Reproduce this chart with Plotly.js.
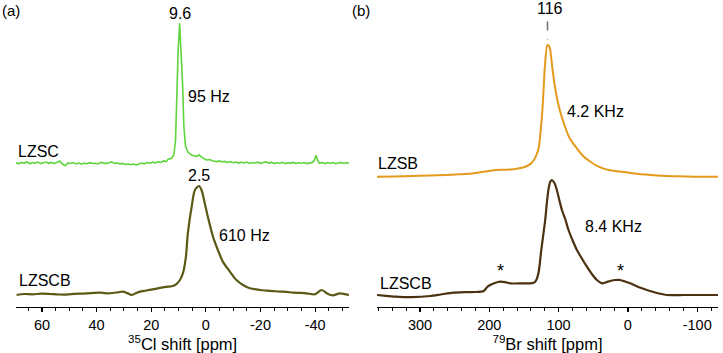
<!DOCTYPE html>
<html>
<head>
<meta charset="utf-8">
<script src="https://cdn.plot.ly/plotly-3.0.1.min.js"></script>
<style>html,body{margin:0;padding:0;background:#fff;}#chart{width:723px;height:353px;}</style>
</head>
<body>
<div id="chart"></div>
<script>
// ---------- DATA ----------
// Panel (a): 35Cl shift [ppm], intensities in arbitrary units
const clShift_LZSC = [69.5,68.5,67.5,66.5,65.5,64.5,63.5,62.5,61.5,60.5,59.5,58.5,57.5,56.5,55.5,54.5,53.5,52.5,51.5,50.5,49.5,48.5,47.5,46.5,45.5,44.5,43.5,42.5,41.5,40.5,39.5,38.5,37.5,36.5,35.5,34.5,33.5,32.5,31.5,30.5,29.5,28.5,27.5,26.5,25.5,24.5,23.5,22.5,21.5,20.5,19.5,18.5,17.5,16.5,15.5,14.5,13.8,12.56,11.72,11.1,10.73,10.15,9.6,9.0,8.53,8.06,7.44,6.48,5.24,4.3,3.4,2.6,2.0,1.0,-0.26,-1.5,-2.5,-3.9,-5,-6,-7,-8,-9,-10,-11,-12,-13,-14,-15,-16,-17,-18,-19,-20,-21,-22,-23,-24,-25,-26,-27,-28,-29,-30,-31,-32,-33,-34,-35,-36,-37,-38,-39,-39.7,-40.3,-40.9,-41.5,-42.5,-43.5,-44.5,-45.5,-46.5,-47.5,-48.5,-49.5,-50.5,-51.5,-52.5];
const clInt_LZSC = [0.5,-0.5,1,0,1.5,-0.5,0.8,0.2,1.2,-0.3,0.6,1.3,0,0.9,-0.4,1.1,2.2,-0.8,-2.5,0.4,-0.2,0.7,-0.6,0.3,-0.9,0.2,-0.4,0.6,-0.2,0.1,-0.7,0.9,0.1,-0.3,0.5,1.4,-0.2,0.4,-0.6,-0.1,-1.2,-0.5,-1.4,-0.8,-1.6,-0.4,0.3,-0.5,0.8,0.2,1.0,0.4,1.6,0.9,2.4,1.8,4,5,8.3,23,63,113,140,113,80,37,16.7,10.7,8.3,7.5,6.7,8.5,7.2,5.2,3.3,3.8,2.2,1.7,2.4,1.3,1.9,0.9,1.6,0.6,1.3,0.2,1.0,0.4,1.2,-0.2,0.8,0.3,1.1,0,0.7,1.4,0.2,0.9,-0.3,0.6,0.1,1.0,-0.4,0.5,0.2,0.9,-0.2,0.6,0.1,0.8,-0.3,0.4,0.9,3,8,3,0.2,0.7,-0.3,0.5,0.1,0.8,-0.4,0.3,0.9,-0.2,0.6,0.1];

const clShift_LZSCB = [69.3,66.5,63.4,60.2,57.1,54.0,51.0,48.0,45.1,42.0,38.8,36.5,34.1,32.2,30.4,28.8,27.2,25.7,24.2,21.8,19.4,17.5,15.75,13.9,12.1,10.7,9.5,8.4,7.3,6.6,5.2,4.0,2.5,1.6,0.4,-0.7,-2.6,-4.4,-6.2,-8.8,-11.2,-13.6,-16.1,-19.8,-22.2,-24.6,-27.1,-29.5,-31.9,-34.4,-36.9,-39.9,-42.4,-44.7,-46.5,-49.1,-52.4];
const clInt_LZSCB = [-0.7,0.3,0,0.6,0.3,-0.2,-0.3,0.4,0.7,1.2,1.7,1.0,1.3,2.0,2.7,1.2,-0.7,1.0,2.7,3.8,5,6.0,7,7.6,8.3,10.5,14.3,21,37.7,61,87.7,104.3,108.3,104.3,91,77.7,57.7,44.3,32.7,22.7,14.3,9.3,6,4.3,3.7,3.2,2.7,2.4,1.7,1.4,1,0,4.3,0.3,-1,1,-0.7];

// Panel (b): 79Br shift [ppm]
const brShift_LZSB = [362,336,311.3,287,263.2,244,224.7,208,191.1,179,167,157,147.8,141,135.6,131.5,128.4,126,123.7,121.6,119.8,116,113.1,111,109.2,105.3,99.6,92.4,85.1,75.6,63.5,55,46.8,37,27.4,18,8.2,-4,-15.9,-32,-49.5,-73,-97.5,-115,-130];
const brInt_LZSB = [0,0.3,0.7,1.2,1.7,2.4,3.3,5,6.7,7.0,7.3,8.4,10,12.6,16.7,22.5,30,45,63.3,88,110,131.7,130,121,110,90,70,53.3,40,30,20,15.5,11.7,8.6,6.7,5.6,5,3.8,2.7,1.8,1,0.4,0,0,0];

const brShift_LZSCB = [362,349,335,311,285,270,252,235,220,212,208,203,198.7,192,184.3,177,169.8,162,155.4,148,141,136.2,133.8,131.5,129,127,125.5,122.5,119.3,116.5,114,111.5,109.7,106,102.5,99,95.2,90,85.7,80,73.6,66,59.2,52,44.7,37.5,31,25.5,18,11.1,4,-3.3,-15,-27.4,-42,-56.3,-80,-105,-130];
const brInt_LZSCB = [0,-0.8,-1.7,-2.2,-1,0.5,2.3,2.8,3,3.3,4,8,10,12,13.3,12.8,11.7,11.5,11.7,11.7,11.7,12.3,13.3,16,22,32,42,58,75,95,108,114,115,112,105,95,85,75,65,55,45,36,28.3,21,15,11.7,12.8,14,15,15,13.5,11.7,8,5,2,0,0,0,0];

// Tick labels
const clTickVals = [60,40,20,0,-20,-40];
const clTickText = ["60","40","20","0","-20","-40"];
const brTickVals = [300,200,100,0,-100];
const brTickText = ["300","200","100","0","-100"];

// ---------- LAYOUT CONSTANTS ----------
const W = 723, H = 353, PLOT_BOTTOM = 307;
const FONT = "Liberation Sans, Arial, Helvetica, sans-serif";
const offLZSC = 143.7, offLZSCB_a = 12.7, offLZSB = 130.3, offLZSCB_b = 12;

function shift(arr, off){ return arr.map(v => v + off); }
function px(x){ return x / W; }
function py(y){ return (PLOT_BOTTOM - y) / PLOT_BOTTOM; }

const traces = [
  {x: clShift_LZSC, y: shift(clInt_LZSC, offLZSC), xaxis:'x', yaxis:'y', mode:'lines',
   line:{color:'#5fd43c', width:1.6}},
  {x: clShift_LZSCB, y: shift(clInt_LZSCB, offLZSCB_a), xaxis:'x', yaxis:'y', mode:'lines',
   line:{color:'#5a5a14', width:2.2, shape:'spline', smoothing:0.8}},
  {x: brShift_LZSB, y: shift(brInt_LZSB, offLZSB), xaxis:'x2', yaxis:'y2', mode:'lines',
   line:{color:'#e59a1e', width:2, shape:'spline', smoothing:0.8}},
  {x: brShift_LZSCB, y: shift(brInt_LZSCB, offLZSCB_b), xaxis:'x2', yaxis:'y2', mode:'lines',
   line:{color:'#4c3210', width:2.2, shape:'spline', smoothing:0.6}}
];

const axBase = {
  showline:true, linecolor:'#000', linewidth:1.3, mirror:false,
  ticks:'outside', ticklen:4, tickwidth:1.2, tickcolor:'#000',
  showgrid:false, zeroline:false, tickmode:'array',
  tickfont:{family:FONT, size:14.5, color:'#000'}, fixedrange:true
};

function ann(text, x, y, xanchor, size){
  return {text:text, x:px(x), y:py(y), xref:'paper', yref:'paper', xanchor:xanchor||'center',
          yanchor:'middle', showarrow:false, font:{family:FONT, size:size||15, color:'#000'}};
}

const layout = {
  width:W, height:H, margin:{l:0, r:0, t:0, b:H-PLOT_BOTTOM, pad:0},
  paper_bgcolor:'#fff', plot_bgcolor:'#fff', showlegend:false,
  xaxis: Object.assign({}, axBase, {
    domain:[px(16), px(349.3)], range:[69.5,-52.5], anchor:'y',
    tickvals:clTickVals, ticktext:clTickText,
    minor:{tickmode:'linear', tick0:0, dtick:5, ticks:'outside', ticklen:2.5, tickwidth:1, tickcolor:'#000', showgrid:false},
    title:{text:'<sup>35</sup>Cl shift [ppm]', font:{family:FONT, size:16.5, color:'#000'}, standoff:5}
  }),
  yaxis:{domain:[0,1], range:[0,PLOT_BOTTOM], visible:false, fixedrange:true, anchor:'x'},
  xaxis2: Object.assign({}, axBase, {
    domain:[px(377), px(718)], range:[362,-130], anchor:'y2',
    tickvals:brTickVals, ticktext:brTickText,
    minor:{tickmode:'linear', tick0:0, dtick:20, ticks:'outside', ticklen:2.5, tickwidth:1, tickcolor:'#000', showgrid:false},
    title:{text:'<sup>79</sup>Br shift [ppm]', font:{family:FONT, size:16.5, color:'#000'}, standoff:5}
  }),
  yaxis2:{domain:[0,1], range:[0,PLOT_BOTTOM], visible:false, fixedrange:true, anchor:'x2'},
  shapes:[
    {type:'line', xref:'x2', yref:'y2', x0:116, x1:116, y0:PLOT_BOTTOM-21.5, y1:PLOT_BOTTOM-40,
     line:{color:'#6e6e6e', width:1.5, dash:'dash'}}
  ],
  annotations:[
    ann('(a)', 11, 10, 'center', 15),
    ann('(b)', 361, 10, 'center', 15),
    ann('9.6', 180, 13, 'center', 16),
    ann('95 Hz', 186, 96.5, 'left', 16),
    ann('LZSC', 16, 151.5, 'left', 16),
    ann('2.5', 198.5, 175, 'center', 16),
    ann('610 Hz', 217, 235, 'left', 16),
    ann('LZSCB', 17, 280, 'left', 16),
    ann('116', 549.5, 8.5, 'center', 16),
    ann('4.2 KHz', 565, 111.5, 'left', 16),
    ann('LZSB', 376, 163, 'left', 16),
    ann('8.4 KHz', 583, 226.5, 'left', 16),
    ann('*', 500, 271, 'center', 18),
    ann('*', 620, 271, 'center', 18),
    ann('LZSCB', 378, 283, 'left', 16)
  ]
};

Plotly.newPlot('chart', traces, layout, {staticPlot:true, displayModeBar:false});
</script>
</body>
</html>
